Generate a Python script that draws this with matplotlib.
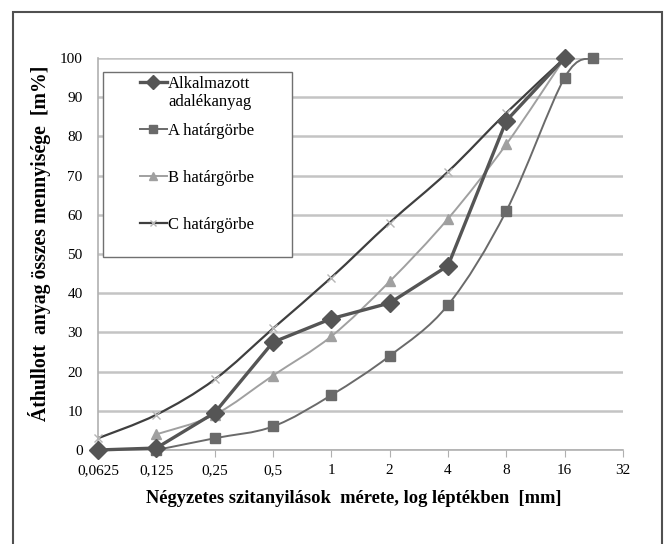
import numpy as np
import matplotlib
matplotlib.use("Agg")
import matplotlib.pyplot as plt
from matplotlib.path import Path
from matplotlib.patches import PathPatch, Rectangle
from matplotlib.lines import Line2D

plt.rcParams['font.family'] = ['Liberation Serif', 'DejaVu Serif']

# sieve sizes [mm] and passing [m%]
sieves = [0.0625, 0.125, 0.25, 0.5, 1, 2, 4, 8, 16]
used = [0, 0.5, 9.5, 27.5, 33.5, 37.5, 47, 84, 100]

a_sieves = [0.125, 0.25, 0.5, 1, 2, 4, 8, 16, 22.4]
a_vals = [0, 3, 6, 14, 24, 37, 61, 95, 100]

b_sieves = [0.125, 0.25, 0.5, 1, 2, 4, 8, 16]
b_vals = [4, 9, 19, 29, 43, 59, 78, 100]

c_sieves = [0.0625, 0.125, 0.25, 0.5, 1, 2, 4, 8, 16]
c_vals = [3, 9, 18, 31, 44, 58, 71, 86, 100]

xticks = [0.0625, 0.125, 0.25, 0.5, 1, 2, 4, 8, 16, 32]
xticklabels = ['0,0625', '0,125', '0,25', '0,5', '1', '2', '4', '8', '16', '32']
labels = ['Alkalmazott', 'A határgörbe', 'B határgörbe', 'C határgörbe']
label_cont = 'adalékanyag'


def smooth_path(xs, ys):
    # excel-like smoothed line: cubic bezier in (log2 x, y) space
    lx = np.log2(xs)
    ys = np.asarray(ys, float)
    n = len(lx)
    verts = [(lx[0], ys[0])]
    codes = [Path.MOVETO]
    for i in range(n - 1):
        p0 = (lx[max(i - 1, 0)], ys[max(i - 1, 0)])
        p1 = (lx[i], ys[i])
        p2 = (lx[i + 1], ys[i + 1])
        p3 = (lx[min(i + 2, n - 1)], ys[min(i + 2, n - 1)])
        c1 = (p1[0] + (p2[0] - p0[0]) / 6, p1[1] + (p2[1] - p0[1]) / 6)
        c2 = (p2[0] - (p3[0] - p1[0]) / 6, p2[1] - (p3[1] - p1[1]) / 6)
        verts += [c1, c2, p2]
        codes += [Path.CURVE4] * 3
    verts = [(2 ** vx, vy) for vx, vy in verts]
    return Path(verts, codes)


fig = plt.figure(figsize=(6.65, 5.44), dpi=100)
ax = fig.add_axes([98 / 665, 94 / 544, 525 / 665, 392 / 544])

# outer frame
fig.patches.append(Rectangle((13 / 665, -0.05), 649 / 665, 1.05 - 12 / 544,
                             transform=fig.transFigure, fill=False,
                             edgecolor='#505050', linewidth=1.5))

c_dark = '#555555'
a_col = '#6a6a6a'
b_col = '#a0a0a0'
c_col = '#3f3f3f'

ax.add_patch(PathPatch(smooth_path(c_sieves, c_vals), fill=False,
                       edgecolor=c_col, linewidth=1.6, zorder=3))
ax.plot(c_sieves, c_vals, linestyle='none', marker='x', ms=6, mew=1,
        color='#b5b5b5', zorder=4, clip_on=False)

ax.add_patch(PathPatch(smooth_path(b_sieves, b_vals), fill=False,
                       edgecolor=b_col, linewidth=1.4, zorder=3))
ax.plot(b_sieves, b_vals, linestyle='none', marker='^', ms=7,
        color=b_col, zorder=4, clip_on=False)

ax.add_patch(PathPatch(smooth_path(a_sieves, a_vals), fill=False,
                       edgecolor=a_col, linewidth=1.4, zorder=3))
ax.plot(a_sieves, a_vals, linestyle='none', marker='s', ms=7.5,
        color=a_col, zorder=4, clip_on=False)

ax.plot(sieves, used, color=c_dark, linewidth=2.4, marker='D', ms=9.5,
        zorder=5, clip_on=False)

ax.set_xscale('log', base=2)
ax.set_xlim(0.0625, 32)
ax.set_ylim(0, 100)
ax.set_xticks(xticks)
ax.set_xticklabels(xticklabels)
ax.xaxis.set_minor_locator(matplotlib.ticker.NullLocator())
ax.set_yticks(range(0, 101, 10))
ax.yaxis.grid(True, color='#c4c4c4', linewidth=1.8)
ax.set_axisbelow(True)
for s in ['top', 'right']:
    ax.spines[s].set_visible(False)
for s in ['left', 'bottom']:
    ax.spines[s].set_color('#b0b0b0')
    ax.spines[s].set_linewidth(1.2)
ax.tick_params(axis='x', direction='out', length=5, color='#b0b0b0',
               labelsize=11, pad=5)
ax.tick_params(axis='y', length=0, labelsize=11, pad=11)
ax.set_xlabel('Négyzetes szitanyilások  mérete, log léptékben  [mm]',
              fontsize=13.3, fontweight='bold')
ax.xaxis.set_label_coords(0.488, -0.102)
ax.set_ylabel('Áthullott  anyag összes mennyisége  [m%]',
              fontsize=14.2, fontweight='bold')
ax.yaxis.set_label_coords(-0.0895, 0.526)

# legend box drawn separately so it can be as wide as in the original
ax.add_patch(Rectangle((5 / 525, 193 / 392), 189 / 525, 185 / 392,
                       transform=ax.transAxes, fill=True, facecolor='white',
                       edgecolor='#707070', linewidth=1.0, zorder=6))

handles = [
    Line2D([], [], color=c_dark, linewidth=2.4, marker='D', ms=7),
    Line2D([], [], color=a_col, linewidth=1.4, marker='s', ms=6),
    Line2D([], [], color=b_col, linewidth=1.4, marker='^', ms=6),
    Line2D([], [], color=c_col, linewidth=1.6, marker='x', ms=5,
           markeredgecolor='#b5b5b5'),
]
leg = ax.legend(handles, labels, loc='upper left',
                bbox_to_anchor=(42 / 525, 374 / 392), fontsize=12,
                frameon=False, labelspacing=1.85, handlelength=1.6,
                handletextpad=0.1, borderpad=0, borderaxespad=0)
leg.set_zorder(7)

# second line of the first legend label, under "Alkalmazott"
fig.canvas.draw()
bb = leg.get_texts()[0].get_window_extent().transformed(ax.transAxes.inverted())
ax.text(bb.x0, bb.y0 - 0.005, label_cont, transform=ax.transAxes,
        fontsize=12, ha='left', va='top', zorder=8)

fig.savefig('out.png', dpi=100)
